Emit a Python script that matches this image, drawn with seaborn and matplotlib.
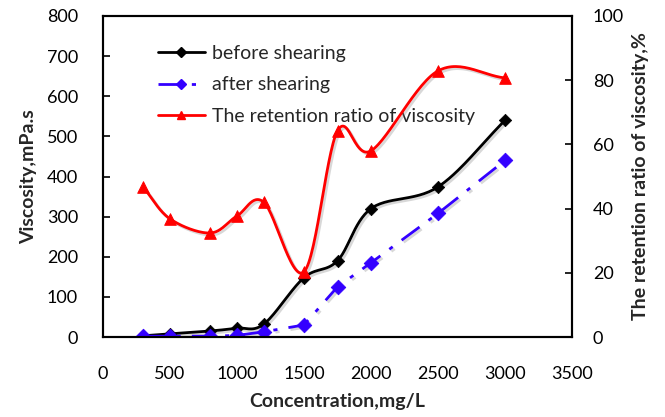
import numpy as np
import pandas as pd
import matplotlib
matplotlib.use("Agg")
import matplotlib.pyplot as plt
import matplotlib.patheffects as pe
from matplotlib.lines import Line2D
import seaborn as sns

concentration = [300, 500, 800, 1000, 1200, 1500, 1750, 2000, 2500, 3000]
before_shearing = [3, 8, 15, 22, 32, 148, 190, 320, 374, 540]
after_shearing = [2, 2, 2, 4, 13, 30, 125, 185, 308, 440]
retention_ratio = [46.7, 36.8, 32.4, 37.7, 42.0, 20.3, 64.2, 58.0, 82.9, 80.7]

x_ticks = [0, 500, 1000, 1500, 2000, 2500, 3000, 3500]
left_ticks = [0, 100, 200, 300, 400, 500, 600, 700, 800]
right_ticks = [0, 20, 40, 60, 80, 100]


def smooth(xs, ys, n=30):
    xs = np.asarray(xs, float)
    ys = np.asarray(ys, float)
    px = np.concatenate([[2 * xs[0] - xs[1]], xs, [2 * xs[-1] - xs[-2]]])
    py = np.concatenate([[2 * ys[0] - ys[1]], ys, [2 * ys[-1] - ys[-2]]])
    ox, oy = [], []
    t = np.linspace(0, 1, n, endpoint=False)
    for i in range(1, len(px) - 2):
        p0, p1, p2, p3 = (np.array([px[j], py[j]]) for j in range(i - 1, i + 3))
        c1 = p1 + (p2 - p0) / 6
        c2 = p2 - (p3 - p1) / 6
        pts = ((1 - t) ** 3)[:, None] * p1 + (3 * (1 - t) ** 2 * t)[:, None] * c1 \
            + (3 * (1 - t) * t ** 2)[:, None] * c2 + (t ** 3)[:, None] * p2
        ox.extend(pts[:, 0]); oy.extend(pts[:, 1])
    ox.append(xs[-1]); oy.append(ys[-1])
    return np.array(ox), np.array(oy)


sns.set_theme(style="white")
plt.rcParams['font.family'] = ['Lato', 'DejaVu Sans']

fig = plt.figure(figsize=(6.65, 4.17), dpi=100)
ax = fig.add_axes([103 / 665, 1 - 337 / 417, (572 - 103) / 665, (337 - 16) / 417])
ax2 = ax.twinx()

shadow_line = [pe.SimpleLineShadow(offset=(1.5, -1.5), alpha=0.3, shadow_color='gray'), pe.Normal()]

df = pd.DataFrame({"c": concentration, "before": before_shearing,
                   "after": after_shearing, "ret": retention_ratio})

sx, sy = smooth(concentration, before_shearing)
ax.plot(sx, sy, color='black', lw=2, path_effects=shadow_line, zorder=3)
sns.scatterplot(data=df, x="c", y="before", ax=ax, marker='D', s=40, color='black',
                edgecolor='black', zorder=4)

sns.lineplot(data=df, x="c", y="after", ax=ax, color='#3300ff', lw=2,
             linestyle=(0, (8, 4, 1.5, 4)), zorder=3, path_effects=shadow_line)
sns.scatterplot(data=df, x="c", y="after", ax=ax, marker='D', s=55, color='#3300ff',
                edgecolor='#3300ff', zorder=4)

rx, ry = smooth(concentration, retention_ratio)
ax2.plot(rx, ry, color='#ff0000', lw=2, path_effects=shadow_line, zorder=3)
sns.scatterplot(data=df, x="c", y="ret", ax=ax2, marker='^', s=70, color='#ff0000',
                edgecolor='#ff0000', zorder=4)

ax.set_xlim(0, 3500)
ax.set_ylim(0, 800)
ax2.set_ylim(0, 100)
ax.set_xticks(x_ticks)
ax.set_yticks(left_ticks)
ax2.set_yticks(right_ticks)

for a in (ax, ax2):
    for s in a.spines.values():
        s.set_color('black')
        s.set_linewidth(1.5)
    a.tick_params(direction='in', length=5, width=1.2, colors='black', labelsize=13)
ax.tick_params(axis='x', pad=21)
ax.tick_params(axis='y', pad=18)
ax2.tick_params(axis='y', pad=15)

ax.set_xlabel("Concentration,mg/L", fontsize=14, fontweight='bold', labelpad=8)
ax.set_ylabel("Viscosity,mPa.s", fontsize=14, fontweight='bold', labelpad=7)
ax2.set_ylabel("The retention ratio of viscosity,%", fontsize=14, fontweight='bold', labelpad=6)

handles = [
    Line2D([], [], color='black', lw=2, marker='D', markersize=5),
    Line2D([], [], color='#3300ff', lw=2, linestyle=(0, (8, 4, 1.5, 4)), marker='D', markersize=5),
    Line2D([], [], color='#ff0000', lw=2, marker='^', markersize=6),
]
ax.legend(handles, ["before shearing", "after shearing", "The retention ratio of viscosity"],
          loc='upper left', bbox_to_anchor=(0.08, 0.965), frameon=False, fontsize=14,
          handlelength=2.4, labelspacing=0.75, handletextpad=0.4)

fig.savefig("out.png", dpi=100)
